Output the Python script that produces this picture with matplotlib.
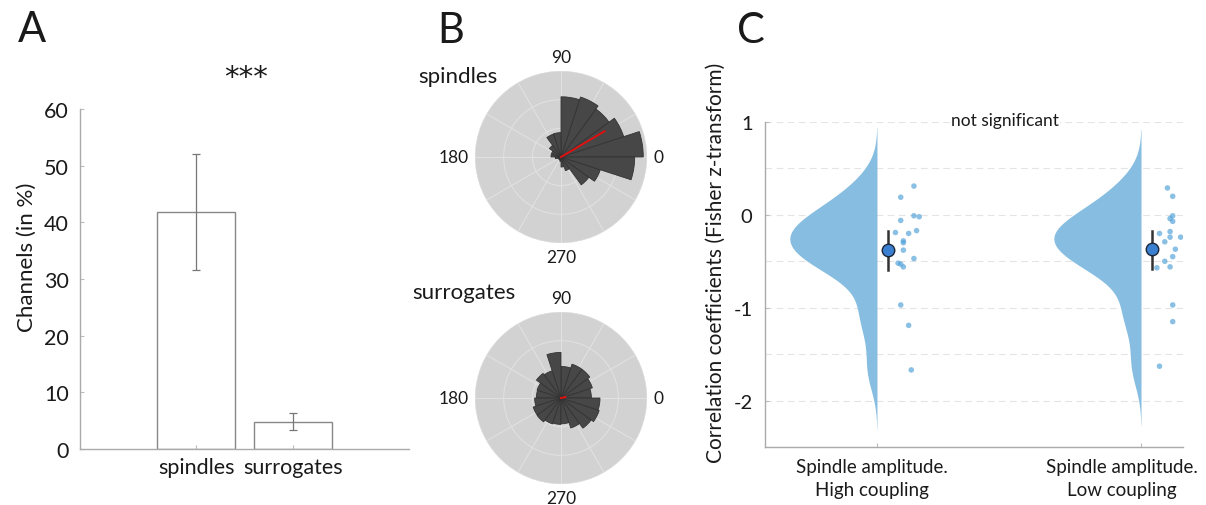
import numpy as np
import matplotlib
matplotlib.use("Agg")
import matplotlib.pyplot as plt
from matplotlib import transforms

plt.rcParams['font.family'] = ['Lato', 'DejaVu Sans']

# ---------------- data ----------------
# Panel A
bar_categories = ["spindles", "surrogates"]
bar_values = [41.8, 4.8]
bar_err_low = [31.6, 3.3]
bar_err_high = [52.0, 6.3]

# Panel B (20 bins of 18 degrees, starting at 0 deg)
bin_edges_deg = list(range(0, 361, 18))
spindle_counts = [2.87, 2.30, 2.07, 2.20, 2.10, 0.85, 0.84, 0.50, 0.35, 0.35,
                  0.20, 0.12, 0.10, 0.10, 0.15, 0.35, 0.50, 1.20, 1.44, 2.57]
surrogate_counts = [1.06, 1.15, 1.24, 1.24, 1.10, 1.59, 1.00, 1.06, 0.88, 0.86,
                    0.92, 1.02, 1.03, 0.95, 0.92, 0.90, 1.10, 1.30, 1.40, 1.36]
spindle_mean_angle_deg = 30.6
spindle_mean_len = 1.77
surrogate_mean_angle_deg = 12.0
surrogate_mean_len = 0.16

# Panel C
group_labels = ["Spindle amplitude.\nHigh coupling", "Spindle amplitude.\nLow coupling"]
high_coupling = [0.31, 0.19, -0.01, -0.02, -0.06, -0.19, -0.20, -0.17, -0.28, -0.30,
                 -0.38, -0.47, -0.52, -0.53, -0.56, -0.97, -1.19, -1.67]
low_coupling = [0.29, 0.20, -0.01, -0.04, -0.07, -0.20, -0.18, -0.24, -0.24, -0.29,
                -0.37, -0.45, -0.50, -0.57, -0.56, -0.97, -1.15, -1.63]
group_means = [-0.38, -0.37]
group_err_low = [-0.59, -0.58]
group_err_high = [-0.17, -0.17]
high_jitter = [0.14, 0.09, 0.14, 0.16, 0.09, 0.07, 0.12, 0.15, 0.10, 0.10,
               0.10, 0.14, 0.08, 0.09, 0.10, 0.09, 0.12, 0.13]
low_jitter = [0.10, 0.12, 0.12, 0.11, 0.12, 0.07, 0.11, 0.15, 0.11, 0.09,
              0.13, 0.12, 0.09, 0.06, 0.11, 0.12, 0.12, 0.07]

W, H = 1206, 506
fig = plt.figure(figsize=(W / 100, H / 100), dpi=100)
fig.patch.set_facecolor('white')


def fax(l, t, r, b, **kw):
    return fig.add_axes([l / W, 1 - b / H, (r - l) / W, (b - t) / H], **kw)


def ftext(x, y, s, **kw):
    return fig.text(x / W, 1 - y / H, s, **kw)


ink = '#1a1a1a'

# ---------------- Panel A ----------------
axA = fax(80, 110, 409, 450)
xpos = np.arange(1, len(bar_values) + 1)
axA.bar(xpos, bar_values, width=0.8, color='white', edgecolor='#888888', linewidth=1.0)
yerr = [np.array(bar_values) - np.array(bar_err_low), np.array(bar_err_high) - np.array(bar_values)]
axA.errorbar(xpos, bar_values, yerr=yerr, fmt='none', ecolor='#777777', elinewidth=0.9,
             capsize=3, capthick=0.9)
axA.set_xlim(-0.2, 3.2)
axA.set_ylim(0, 60)
axA.set_yticks([0, 10, 20, 30, 40, 50, 60])
axA.set_xticks(xpos)
axA.set_xticklabels(bar_categories, fontsize=15.5, color=ink)
axA.tick_params(axis='both', direction='in', length=3, color='#bbbbbb', labelsize=15.5,
                labelcolor=ink)
axA.tick_params(axis='y', pad=8)
axA.tick_params(axis='x', pad=6)
for s in ['top', 'right']:
    axA.spines[s].set_visible(False)
for s in ['left', 'bottom']:
    axA.spines[s].set_color('#aaaaaa')
    axA.spines[s].set_linewidth(1.0)
axA.set_facecolor('none')
ftext(27, 257, "Channels (in %)", fontsize=16, rotation=90, ha='center', va='center', color=ink)
ftext(246, 78, "***", fontsize=21, ha='center', va='center', color=ink,
      family='DejaVu Sans')
ftext(32, 30, "A", fontsize=30, ha='center', va='center', color=ink)


# ---------------- Panel B ----------------
def polar_panel(cx, cy, counts, mang, mlen, title, tx, ty):
    R = 86
    ax = fax(cx - R, cy - R, cx + R, cy + R, projection='polar')
    ax.set_facecolor('#d2d2d2')
    edges = np.deg2rad(bin_edges_deg)
    widths = np.diff(edges)
    ax.bar(edges[:-1], counts, width=widths, align='edge', color='#474747',
           edgecolor='#333333', linewidth=0.6, zorder=3)
    ax.plot([0, np.deg2rad(mang)], [0, mlen], color='#e01010', linewidth=1.4, zorder=4)
    ax.set_ylim(0, 3)
    ax.set_yticks([1, 2, 3])
    ax.set_yticklabels([])
    ax.set_xticks(np.deg2rad(np.arange(0, 360, 30)))
    ax.set_xticklabels([])
    ax.grid(True, color='#e2e2e2', linewidth=0.7)
    ax.spines['polar'].set_visible(False)
    ax.set_axisbelow(True)
    for ang, lab, ha, va in [(0, '0', 'left', 'center'), (90, '90', 'center', 'bottom'),
                             (180, '180', 'right', 'center'), (270, '270', 'center', 'top')]:
        ax.text(np.deg2rad(ang), 3.22, lab, fontsize=12.5, ha=ha, va=va, color=ink)
    ftext(tx, ty, title, fontsize=16, ha='left', va='center', color=ink)
    return ax


polar_panel(561, 158, spindle_counts, spindle_mean_angle_deg, spindle_mean_len,
            "spindles", 418, 77)
polar_panel(561, 399, surrogate_counts, surrogate_mean_angle_deg, surrogate_mean_len,
            "surrogates", 412, 293)
ftext(451, 31, "B", fontsize=30, ha='center', va='center', color=ink)

# ---------------- Panel C ----------------
axC = fax(765, 123, 1183, 448)
axC.set_xlim(0.576, 2.159)
axC.set_ylim(-2.5, 1)
violin_color = '#86bde0'
for i, (vals, jit) in enumerate([(high_coupling, high_jitter), (low_coupling, low_jitter)]):
    pos = i + 1
    d = np.array(vals)
    grid = np.linspace(d.min() - 0.64, d.max() + 0.63, 400)
    h = 0.23
    dens = np.exp(-0.5 * ((grid[:, None] - d[None, :]) / h) ** 2).sum(axis=1)
    dens = dens / dens.max() * 0.33
    axC.fill_betweenx(grid, pos - dens, pos, color=violin_color, linewidth=0, zorder=2)
    axC.scatter(pos + np.array(jit), d, s=16, color='#4d9fd8', alpha=0.65,
                edgecolors='none', zorder=3)
    axC.plot([pos + 0.042, pos + 0.042], [group_err_low[i], group_err_high[i]],
             color='#333333', linewidth=1.8, zorder=4)
    axC.plot(pos + 0.042, group_means[i], 'o', markersize=9, markerfacecolor='#3b7fd0',
             markeredgecolor='#1c2636', markeredgewidth=1.0, zorder=5)
for yv in [1, 0.5, 0, -0.5, -1, -1.5, -2]:
    axC.axhline(yv, color='#e4e4e4', linewidth=0.8, linestyle=(0, (6, 4)), zorder=0)
axC.set_yticks([1, 0, -1, -2])
axC.set_yticklabels(['1', '0', '-1', '-2'])
axC.set_xticks([1, 2])
axC.set_xticklabels([])
axC.tick_params(axis='both', direction='in', length=3, color='#bbbbbb', labelcolor=ink)
axC.tick_params(axis='y', labelsize=14.5, pad=9)
for s in ['top', 'right']:
    axC.spines[s].set_visible(False)
for s in ['left', 'bottom']:
    axC.spines[s].set_color('#aaaaaa')
    axC.spines[s].set_linewidth(1.0)
# group labels (slightly offset from tick positions as in the reference)
trans = transforms.blended_transform_factory(axC.transData, fig.transFigure)
label_x = [0.981, 1.928]
for lx, lab in zip(label_x, group_labels):
    axC.text(lx, 1 - 459 / H, lab, transform=trans, fontsize=13.5, ha='center', va='top',
             color=ink, linespacing=1.45)
ftext(716, 263, "Correlation coefficients (Fisher z-transform)", fontsize=15,
      rotation=90, ha='center', va='center', color=ink)
ftext(1005, 121, "not significant", fontsize=12.5, ha='center', va='center', color=ink,
      bbox=dict(facecolor='white', edgecolor='none', pad=1))
ftext(751, 31, "C", fontsize=30, ha='center', va='center', color=ink)

fig.savefig("out.png", dpi=100, facecolor='white')
